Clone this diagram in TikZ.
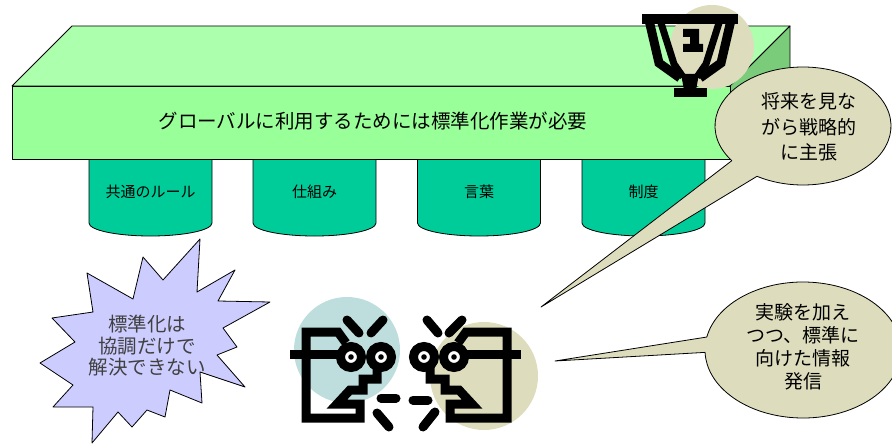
\documentclass[tikz,border=0pt]{standalone}
\usepackage{fontspec}
\newfontfamily\jp{Noto Sans CJK JP}
\definecolor{slabtop}{RGB}{172,255,172}
\definecolor{slabfront}{RGB}{153,255,153}
\definecolor{slabside}{RGB}{122,204,122}
\definecolor{pillar}{RGB}{0,204,153}
\definecolor{beige}{RGB}{221,221,190}
\definecolor{paleblue}{RGB}{190,221,221}
\definecolor{lavender}{RGB}{204,204,255}
\tikzset{
  edge/.style={draw=black, line width=0.8pt, line join=round},
  pillarbox/.style={edge, fill=pillar},
  bubble/.style={edge, fill=beige},
  ink/.style={draw=black, line width=9pt, line join=miter},
  inkdash/.style={draw=black, line width=9pt, line cap=round},
  eyering/.style={draw=black, line width=9pt, fill=white},
  cup/.style={draw=black, line width=9pt, line join=miter},
  cupwall/.style={draw=black, line width=7pt, line join=miter},
  bigtext/.style={font=\jp\fontsize{19.5}{24}\selectfont},
  pillartext/.style={font=\jp\fontsize{15}{18}\selectfont},
}
\begin{document}
\begin{tikzpicture}[x=1pt, y=1pt, yscale=-1]
\useasboundingbox (0,0) rectangle (892,444);
\fill[white] (0,0) rectangle (892,444);

% pillars under the slab
\foreach \cx/\lab/\nm in {150.5/共通のルール/p1, 314.5/仕組み/p2, 479/言葉/p3, 643.5/制度/p4}{
  \path[pillarbox] (\cx-61.5,150) -- (\cx-61.5,223)
    arc[start angle=180, end angle=0, x radius=61.5, y radius=13]
    -- (\cx+61.5,150) -- cycle;
  \node[pillartext] (\nm) at (\cx,192) {\lab};
}

% the slab: top, side and front faces
\path[edge, fill=slabtop] (12,86) -- (72,26) -- (790,26) -- (730,86) -- cycle;
\path[edge, fill=slabside] (730,86) -- (790,26) -- (790,99) -- (730,159) -- cycle;
\path[edge, fill=slabfront] (12,86) rectangle (730,159);
\node[bigtext] (slab) at (373,121) {グローバルに利用するためには標準化作業が必要};

% trophy
\fill[beige] (712,47) circle[radius=42];
\fill[black] (642,14) rectangle (738,24);
\draw[cup] (649,20) -- (659,63) -- (680,78);
\draw[cup] (731,20) -- (721,63) -- (700,78);
\draw[cupwall] (661,23) -- (674,64) -- (683,77);
\draw[cupwall] (719,23) -- (706,64) -- (697,77);
\fill[black] (681,74) -- (699,74) -- (696,90) -- (684,90) -- cycle;
\fill[black] (674,88) rectangle (707,97);
\fill[black] (683,29) -- (699,29) -- (699,44) -- (703,44) -- (703,52)
  -- (683,52) -- (683,44) -- (690,44) -- (690,37) -- (683,37) -- cycle;

% starburst
\path[edge, fill=lavender] (200,239) -- (197,292) -- (235,270) -- (218,301)
  -- (270,302) -- (223,328) -- (237,347) -- (217,355) -- (245,387)
  -- (200,372) -- (202,403) -- (170,390) -- (165,417) -- (147,410)
  -- (132,427) -- (118,412) -- (92,443) -- (93,407) -- (53,407)
  -- (73,385) -- (40,363) -- (75,342) -- (52,318) -- (93,312)
  -- (87,273) -- (133,299) -- (143,257) -- (163,280) -- cycle;
\node[font=\jp\fontsize{19.5}{21.5}\selectfont, text=black!75, align=center]
  (burst) at (147,346) {標準化は\\協調だけで\\解決できない};

% two arguing faces
\fill[paleblue] (347,350) circle[radius=53];
\fill[beige] (484,376) circle[radius=54];
% left face
\draw[ink] (346,343) -- (338,332) -- (306,332) -- (306,418) -- (360,418)
  -- (360,404) -- (337,404) -- (350,390) -- (363,390) -- (363,379)
  -- (377,379) -- (377,367);
\draw[ink] (290,354) -- (338,354);
\draw[eyering] (351,357) circle[radius=10.5];
\draw[eyering] (381,357) circle[radius=10.5];
\fill[black] (351,357) circle[radius=2.8];
\fill[black] (381,357) circle[radius=2.8];
\draw[inkdash] (347,320) -- (359,333);
\draw[inkdash] (383,320) -- (371,333);
\draw[inkdash] (381,398) -- (396,398);
\draw[inkdash] (377,413) -- (389,427);
% right face
\draw[ink] (458,343) -- (466,332) -- (507,332) -- (507,418) -- (450,418)
  -- (450,404) -- (472,404) -- (459,390) -- (445,390) -- (445,379)
  -- (430,379) -- (430,367);
\draw[ink] (466,354) -- (521,354);
\draw[eyering] (424,357) circle[radius=10.5];
\draw[eyering] (454,357) circle[radius=10.5];
\fill[black] (424,357) circle[radius=2.8];
\fill[black] (454,357) circle[radius=2.8];
\draw[inkdash] (427,320) -- (438,333);
\draw[inkdash] (462,320) -- (449,333);
\draw[inkdash] (413,400) -- (428,400);
\draw[inkdash] (435,412) -- (423,427);

% speech bubbles
\coordinate (tipA) at (541,307);
\path[bubble] (tipA) -- ({803+88*cos(144)},{126+59*sin(144)})
  arc[start angle=144, end angle=481.5, x radius=88, y radius=59] -- cycle;
\node[font=\jp\fontsize{19}{25.5}\selectfont, align=center]
  (sayA) at (809,127) {将来を見な\\がら戦略的\\に主張};

\coordinate (tipB) at (555,361);
\path[bubble] (tipB) -- ({803+98*cos(191)},{350+68*sin(191)})
  arc[start angle=191, end angle=538, x radius=98, y radius=68] -- cycle;
\node[font=\jp\fontsize{19}{23}\selectfont, align=center]
  (sayB) at (803,347) {実験を加え\\つつ、標準に\\向けた情報\\発信};
\end{tikzpicture}
\end{document}
